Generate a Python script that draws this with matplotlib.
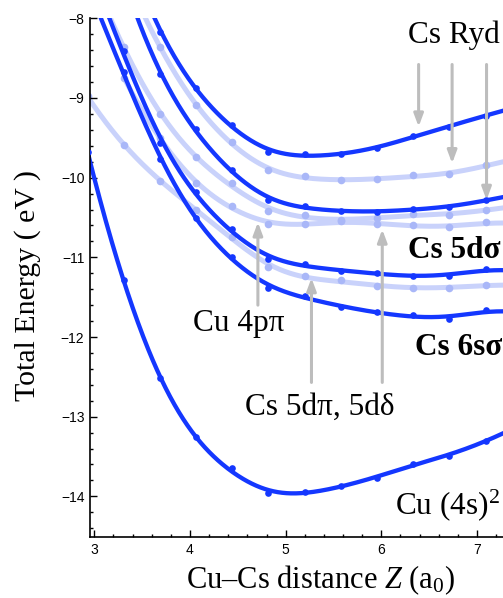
import numpy as np
import matplotlib
matplotlib.use("Agg")
import matplotlib.pyplot as plt
from matplotlib.ticker import MultipleLocator

plt.rcParams['font.family'] = ['Liberation Serif', 'DejaVu Serif']
plt.rcParams['mathtext.fontset'] = 'custom'
plt.rcParams['mathtext.rm'] = 'Liberation Serif'
plt.rcParams['mathtext.it'] = 'Liberation Serif:italic'
plt.rcParams['mathtext.bf'] = 'Liberation Serif:bold'

nan = np.nan
# Cu-Cs distance grid (a0)
distance = [2.93, 3.31, 3.69, 4.06, 4.44, 4.82, 5.20, 5.58, 5.95, 6.33, 6.71, 7.09, 7.46]

# dark (strong) states
cs_ryd_a = [nan, -7.0, -8.17, -8.87, -9.34, -9.68, -9.70, -9.70, -9.63, -9.48, -9.36, -9.22, -9.10]
cs_ryd_c = [nan, -7.5, -8.70, -9.39, -9.91, -10.28, -10.35, -10.42, -10.43, -10.39, -10.37, -10.28, -10.20]
cs_5dsigma = [-7.3, -8.41, -9.56, -10.18, -10.65, -11.02, -11.08, -11.17, -11.20, -11.23, -11.23, -11.15, -11.18]
cs_6ssigma = [-7.6, -8.67, -9.77, -10.51, -10.99, -11.38, -11.48, -11.62, -11.69, -11.73, -11.77, -11.66, -11.70]
cu_4s2 = [-9.68, -11.29, -12.52, -13.26, -13.65, -13.96, -13.94, -13.87, -13.77, -13.59, -13.49, -13.30, -13.10]

# light (weak) states
cs_ryd_b = [nan, -7.4, -8.36, -9.09, -9.55, -9.91, -9.98, -10.03, -10.02, -9.97, -9.96, -9.84, -9.75]
weak_1 = [-7.3, -8.36, -9.20, -9.74, -10.07, -10.42, -10.47, -10.53, -10.51, -10.46, -10.47, -10.40, -10.35]
cu_4ppi = [nan, -8.75, -9.50, -10.07, -10.35, -10.58, -10.58, -10.55, -10.58, -10.60, -10.62, -10.56, -10.58]
cs_5dpi = [-8.98, -9.59, -10.04, -10.40, -10.74, -11.12, -11.24, -11.29, -11.36, -11.38, -11.38, -11.35, -11.35]

dark_series = [cs_ryd_a, cs_ryd_c, cs_5dsigma, cs_6ssigma, cu_4s2]
light_series = [cs_ryd_b, weak_1, cu_4ppi, cs_5dpi]

x_ticks = [3, 4, 5, 6, 7]
y_ticks = [-14, -13, -12, -11, -10, -9, -8]

DARK = '#1437ff'
LIGHT_LINE = '#c9d2fb'
LIGHT_DOT = '#a9b7f8'
ARROW = '#bdbdbd'


def smooth_fit(x, y, lam=3e-4, n=500):
    """Penalised (third-difference) least-squares smooth curve through data."""
    x = np.asarray(x, float)
    y = np.asarray(y, float)
    g = np.linspace(x[0], x[-1], n)
    h = g[1] - g[0]
    W = np.zeros((len(x), n))
    for i, xi in enumerate(x):
        j = min(int((xi - g[0]) / h), n - 2)
        t = (xi - g[j]) / h
        W[i, j] = 1 - t
        W[i, j + 1] = t
    D = np.diff(np.eye(n), 3, axis=0)
    P = (lam / h ** 5) * (D.T @ D)
    f = np.linalg.solve(W.T @ W + P, W.T @ y)
    return g, f


fig = plt.figure(figsize=(5.03, 5.98), dpi=100)
ax = fig.add_axes([90 / 503, 61 / 598, 413 / 503, 518.7 / 598])

xd = np.asarray(distance)


def draw(series, lcolor, dcolor, lw, ms, zl, zd):
    y = np.asarray(series, float)
    m = ~np.isnan(y)
    g, f = smooth_fit(xd[m], y[m])
    ax.plot(g, f, color=lcolor, lw=lw, solid_capstyle='round', zorder=zl)
    ax.plot(xd[m], y[m], 'o', color=dcolor, ms=ms, mec='none', zorder=zd)


for s in light_series:
    draw(s, LIGHT_LINE, LIGHT_DOT, 3.6, 5.5, 1, 1.5)
for s in dark_series:
    draw(s, DARK, DARK, 3.1, 4.8, 2, 3)

ax.set_xlim(2.955, 7.272)
ax.set_ylim(-14.51, -8.0)
ax.set_xticks(x_ticks)
ax.set_yticks(y_ticks)
ax.xaxis.set_minor_locator(MultipleLocator(0.2))
ax.yaxis.set_minor_locator(MultipleLocator(0.2))
ax.tick_params(which='both', direction='in', top=False, right=False,
               labelfontfamily='Liberation Sans', labelsize=10, width=1, color='black')
ax.tick_params(which='major', length=5, pad=4)
ax.tick_params(which='minor', length=2.5)
for sp in ['top', 'right']:
    ax.spines[sp].set_visible(False)
for sp in ['left', 'bottom']:
    ax.spines[sp].set_linewidth(1.2)

ax.set_xlabel(r'Cu–Cs distance $\mathit{Z}$ (a$_\mathrm{0}$)', fontsize=22)
ax.xaxis.set_label_coords(0.557, -0.083)
ax.xaxis.label.set_va('center')
ax.set_ylabel('Total Energy ( eV )', fontsize=21.5)
ax.yaxis.set_label_coords(-0.152, 0.484)
ax.yaxis.label.set_va('center')

arrow_kw = dict(arrowstyle='-|>,head_length=0.75,head_width=0.28', color=ARROW,
                lw=2.2, shrinkA=0, shrinkB=0)


def arrow(x, y0, y1):
    ax.annotate('', xy=(x, y1), xytext=(x, y0), arrowprops=arrow_kw, zorder=4)


arrow(6.39, -8.58, -9.36)
arrow(6.74, -8.58, -9.82)
arrow(7.10, -8.58, -10.28)
arrow(4.71, -11.60, -10.56)
arrow(5.27, -12.57, -11.26)
arrow(6.01, -12.57, -10.65)

fs = 22.5
ax.text(6.28, -8.31, 'Cs Ryd', fontsize=fs, va='baseline', ha='left')
ax.text(6.28, -11.01, 'Cs 5dσ', fontsize=fs, fontweight='bold', va='baseline', ha='left')
ax.text(6.35, -12.22, 'Cs 6sσ', fontsize=fs, fontweight='bold', va='baseline', ha='left')
ax.text(4.03, -11.93, 'Cu 4pπ', fontsize=fs, va='baseline', ha='left')
ax.text(4.575, -12.98, 'Cs 5dπ, 5dδ', fontsize=fs, va='baseline', ha='left')
ax.text(6.14, -14.22, r'Cu (4s)$^\mathrm{2}$', fontsize=fs, va='baseline', ha='left')

fig.savefig('out.png', dpi=100)
